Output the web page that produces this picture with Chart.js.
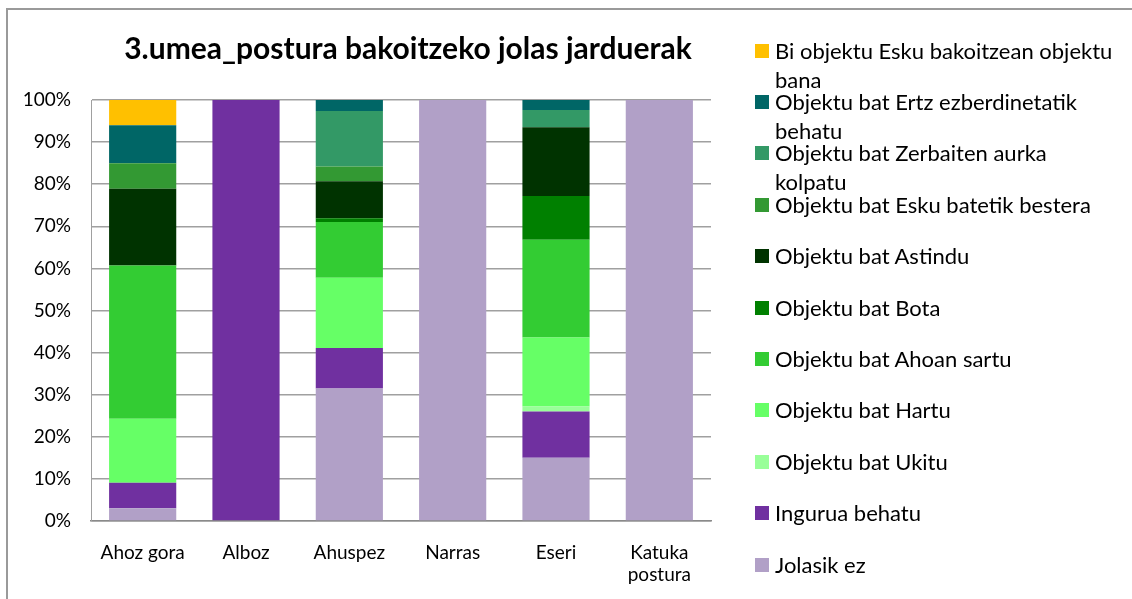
<!DOCTYPE html>
<html>
<head>
<meta charset="utf-8">
<script src="https://cdn.jsdelivr.net/npm/chart.js@4/dist/chart.umd.min.js"></script>
<style>
  html, body { margin: 0; padding: 0; background: #fff; }
  body { width: 1132px; height: 599px; position: relative; overflow: hidden; font-family: Lato, sans-serif; }
  .frame { position: absolute; left: 6px; top: 8px; width: 1140px; height: 600px;
           border-left: 2px solid #9a9a9a; border-top: 2px solid #9a9a9a; }
  #wrap { position: absolute; left: 0; top: 0; width: 816px; height: 599px; }
  #title { position: absolute; left: 0; top: 32px; width: 816px; text-align: center;
           font-size: 30px; font-weight: bold; line-height: 30px; color: #000; }
  #legend { position: absolute; left: 755px; top: 0; width: 370px; }
  .item { position: absolute; left: 0; font-size: 22px; line-height: 29px; color: #000; padding-left: 20px; width: 340px; }
  .item .sw { position: absolute; left: 0; top: 8px; width: 14px; height: 14px; }
</style>
</head>
<body>
<div class="frame"></div>
<div id="wrap"><canvas id="chart" width="816" height="599"></canvas></div>
<div id="title">3.umea_postura bakoitzeko jolas jarduerak</div>
<div id="legend"></div>
<script>
// Kategoriak
const categories = ['Ahoz gora', 'Alboz', 'Ahuspez', 'Narras', 'Eseri', ['Katuka', 'postura']];

// Serieak (behetik gora), %
const jolasikEz    = [3.0,   0, 31.5, 100, 15.0, 100];
const ingurua      = [6.1, 100,  9.6,   0, 11.0,   0];
const ukitu        = [0,     0,  0,     0,  1.2,   0];
const hartu        = [15.2,  0, 16.7,   0, 16.4,   0];
const ahoan        = [36.4,  0, 13.2,   0, 23.2,   0];
const bota         = [0,     0,  0.9,   0, 10.4,   0];
const astindu      = [18.2,  0,  8.8,   0, 16.3,   0];
const eskuBatetik  = [6.1,   0,  3.5,   0,  0,     0];
const zerbaiten    = [0,     0, 13.2,   0,  4.1,   0];
const ertz         = [9.0,   0,  2.6,   0,  2.4,   0];
const biObjektu    = [6.0,   0,  0,     0,  0,     0];

const seriesNames = [
  'Jolasik ez', 'Ingurua behatu', 'Objektu bat Ukitu', 'Objektu bat Hartu',
  'Objektu bat Ahoan sartu', 'Objektu bat Bota', 'Objektu bat Astindu',
  'Objektu bat Esku batetik bestera', 'Objektu bat Zerbaiten aurka kolpatu',
  'Objektu bat Ertz ezberdinetatik behatu', 'Bi objektu Esku bakoitzean objektu bana'
];
const seriesData = [jolasikEz, ingurua, ukitu, hartu, ahoan, bota, astindu, eskuBatetik, zerbaiten, ertz, biObjektu];
const seriesColors = ['#B1A0C7', '#7030A0', '#99FF99', '#66FF66', '#33CC33', '#008000',
                      '#003300', '#339933', '#339966', '#006666', '#FFC000'];

const yTicks = [0, 10, 20, 30, 40, 50, 60, 70, 80, 90, 100];

const datasets = seriesNames.map((name, i) => ({
  label: name,
  data: seriesData[i],
  backgroundColor: seriesColors[i],
  borderWidth: 0,
  barPercentage: 0.65,
  categoryPercentage: 1.0,
}));

new Chart(document.getElementById('chart'), {
  type: 'bar',
  data: { labels: categories, datasets },
  options: {
    responsive: false,
    animation: false,
    layout: { padding: { left: 0, right: 105, top: 100, bottom: 0 } },
    plugins: {
      legend: { display: false },
      tooltip: { enabled: false },
      title: { display: false },
    },
    scales: {
      x: {
        stacked: true,
        grid: { display: false, drawTicks: false },
        border: { color: '#8a8a8a', width: 1.5 },
        ticks: { color: '#000', font: { family: 'Lato', size: 19 }, padding: 20, maxRotation: 0 },
        afterFit: s => { s.height = 78; },
      },
      y: {
        stacked: true,
        min: 0, max: 100,
        afterBuildTicks: s => { s.ticks = yTicks.map(v => ({ value: v })); },
        grid: { color: '#a0a0a0', lineWidth: 1.5, drawTicks: false },
        border: { color: '#a0a0a0', width: 1 },
        ticks: { color: '#000', font: { family: 'Lato', size: 19 }, padding: 20, callback: v => v + '%' },
        afterFit: s => { s.width = 91; },
      },
    },
  },
});

// Legenda (goitik behera, alderantzizko ordena)
const legend = document.getElementById('legend');
for (let k = 0; k < seriesNames.length; k++) {
  const i = seriesNames.length - 1 - k;
  const div = document.createElement('div');
  div.className = 'item';
  div.style.top = (50 + k * 51.4 - 14.5) + 'px';
  div.innerHTML = `<span class="sw" style="background:${seriesColors[i]}"></span>${seriesNames[i]}`;
  legend.appendChild(div);
}
</script>
</body>
</html>
